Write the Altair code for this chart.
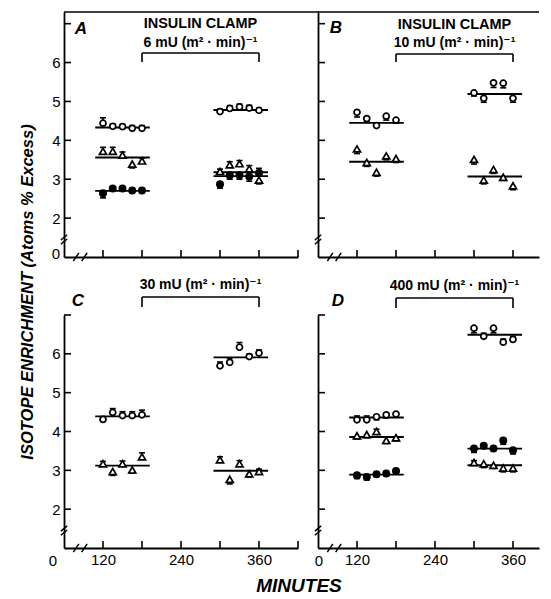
import altair as alt
import pandas as pd

FONT = "Liberation Sans, DejaVu Sans, sans-serif"

# ---------------- data ----------------
pre_minutes = [120, 135, 150, 165, 180]
post_minutes = [300, 315, 330, 345, 360]
pre_line_span = [108, 192]
post_line_span = [290, 374]
clamp_span = [180, 360]
x_tick_values = [120, 180, 240, 300, 360, 420]
x_label_values = [120, 240, 360]
y_label_values = [2, 3, 4, 5, 6]
y_break = [60, 1.45]
x_break = [85, 1.0]

# Panel A : 6 mU
a_open_circle = [4.44, 4.36, 4.35, 4.31, 4.31, 4.74, 4.82, 4.86, 4.83, 4.77]
a_open_circle_err = [0.14, 0.06, 0.06, 0.07, 0.07, 0.06, 0.07, 0.07, 0.07, 0.06]
a_open_circle_mean = [4.33, 4.78]
a_triangle = [3.72, 3.72, 3.62, 3.39, 3.47, 3.20, 3.37, 3.40, 3.27, 2.98]
a_triangle_err = [0.10, 0.10, 0.08, -0.10, 0.07, 0.06, 0.08, 0.08, 0.08, -0.10]
a_triangle_mean = [3.56, 3.18]
a_filled_circle = [2.64, 2.76, 2.76, 2.71, 2.71, 2.87, 3.10, 3.10, 3.07, 3.16]
a_filled_circle_err = [-0.12, -0.05, -0.06, -0.05, -0.05, -0.10, -0.10, -0.10, -0.12, 0.12]
a_filled_circle_mean = [2.70, 3.08]

# Panel B : 10 mU
b_open_circle = [4.72, 4.56, 4.38, 4.62, 4.52, 5.22, 5.08, 5.48, 5.47, 5.08]
b_open_circle_err = [-0.12, -0.08, 0.06, -0.10, -0.08, -0.08, -0.10, -0.12, -0.12, -0.10]
b_open_circle_mean = [4.45, 5.19]
b_triangle = [3.78, 3.43, 3.18, 3.60, 3.53, 3.51, 2.98, 3.25, 3.05, 2.83]
b_triangle_err = [-0.12, -0.10, -0.10, -0.10, -0.10, -0.12, -0.10, -0.10, -0.08, -0.10]
b_triangle_mean = [3.45, 3.07]

# Panel C : 30 mU
c_open_circle = [4.31, 4.49, 4.41, 4.41, 4.43, 5.69, 5.78, 6.17, 5.93, 6.02]
c_open_circle_err = [0.05, 0.10, 0.10, 0.10, 0.12, 0.10, 0.10, 0.12, 0.06, 0.08]
c_open_circle_mean = [4.39, 5.91]
c_triangle = [3.17, 2.97, 3.17, 3.01, 3.35, 3.27, 2.77, 3.17, 2.91, 2.97]
c_triangle_err = [0.06, -0.10, 0.07, -0.08, 0.10, 0.08, -0.12, 0.08, -0.08, 0.06]
c_triangle_mean = [3.12, 2.99]

# Panel D : 400 mU
d_open_circle = [4.30, 4.30, 4.38, 4.43, 4.45, 6.66, 6.45, 6.66, 6.30, 6.37]
d_open_circle_err = [0.10, 0.10, -0.08, -0.08, -0.08, -0.12, 0.08, -0.12, 0.08, 0.08]
d_open_circle_mean = [4.36, 6.49]
d_triangle = [3.89, 3.92, 4.00, 3.77, 3.84, 3.20, 3.17, 3.13, 3.06, 3.06]
d_triangle_err = [-0.08, -0.08, 0.06, -0.08, -0.08, 0.05, -0.10, -0.08, -0.10, -0.10]
d_triangle_mean = [3.86, 3.13]
d_filled_circle = [2.87, 2.83, 2.90, 2.92, 2.98, 3.56, 3.63, 3.56, 3.77, 3.52]
d_filled_circle_err = [-0.08, -0.08, -0.06, -0.06, 0.06, -0.10, 0.05, -0.05, -0.10, -0.10]
d_filled_circle_mean = [2.89, 3.56]

y_title = "ISOTOPE ENRICHMENT  (Atoms % Excess)"
x_title = "MINUTES"
clamp_label = "INSULIN CLAMP"
dose_labels = {"A": "6 mU  (m\u00b2 \u00b7 min)\u207b\u00b9",
               "B": "10 mU  (m\u00b2 \u00b7 min)\u207b\u00b9",
               "C": "30 mU  (m\u00b2 \u00b7 min)\u207b\u00b9",
               "D": "400 mU  (m\u00b2 \u00b7 min)\u207b\u00b9"}

SYMBOLS = {
    "open_circle": dict(shape="circle", fill="white", size=36),
    "triangle": dict(shape="triangle-up", fill="white", size=50),
    "filled_circle": dict(shape="circle", fill="black", size=40),
}
ONE = pd.DataFrame({"t": [0]})


def build_panel(letter, series, width, height, xmax, ymax, lay):
    xscale = alt.Scale(domain=[60, xmax], nice=False, zero=False)
    yscale = alt.Scale(domain=[1, ymax], nice=False, zero=False)
    xaxis = alt.Axis(values=x_label_values, labels=lay["xlabels"], ticks=False,
                     grid=False, title=None, labelPadding=4)
    yaxis = alt.Axis(values=y_label_values, labels=lay["ylabels"], ticks=False,
                     grid=False, title=None, labelPadding=4)

    def X(f):
        return alt.X(f, type="quantitative", scale=xscale, axis=xaxis)

    def Y(f):
        return alt.Y(f, type="quantitative", scale=yscale, axis=yaxis)

    times = pre_minutes + post_minutes
    layers = []
    for sym, vals, errs, means in series:
        pts = pd.DataFrame({"t": times, "v": vals, "e": errs})
        pts["end"] = pts["v"] + pts["e"]
        ml = pd.DataFrame({"t0": [pre_line_span[0], post_line_span[0]],
                           "t1": [pre_line_span[1], post_line_span[1]],
                           "m": means})
        layers.append(alt.Chart(ml).mark_rule(color="black", strokeWidth=1.9).encode(
            x=X("t0"), x2=alt.X2("t1"), y=Y("m")))
        layers.append(alt.Chart(pts).mark_rule(color="black", strokeWidth=1.5).encode(
            x=X("t"), y=Y("v"), y2=alt.Y2("end")))
        layers.append(alt.Chart(pts).mark_point(shape="M-1,0L1,0", size=36, filled=False,
                                                color="black", strokeWidth=1.6, opacity=1).encode(
            x=X("t"), y=Y("end")))
        s = SYMBOLS[sym]
        layers.append(alt.Chart(pts).mark_point(shape=s["shape"], size=s["size"], filled=True,
                                                fill=s["fill"], stroke="black", strokeWidth=1.7,
                                                opacity=1).encode(x=X("t"), y=Y("v")))

    # inward ticks
    yt = pd.DataFrame({"v": [v for v in y_label_values + [7] if v <= ymax]})
    layers.append(alt.Chart(yt).mark_rule(color="black", strokeWidth=1.6).encode(
        y=Y("v"), x=alt.value(0), x2=alt.value(7)))
    xt = pd.DataFrame({"t": [t for t in x_tick_values if t <= xmax]})
    layers.append(alt.Chart(xt).mark_rule(color="black", strokeWidth=1.6).encode(
        x=X("t"), y=alt.value(height), y2=alt.value(height - 7)))

    # axis breaks
    layers.append(alt.Chart(pd.DataFrame({"t": [y_break[0]], "v": [y_break[1]]})).mark_point(
        shape="M-0.6,0.1L0.6,-0.9M-0.6,0.9L0.6,-0.1", size=110, filled=False,
        color="black", strokeWidth=1.5, opacity=1).encode(x=X("t"), y=Y("v")))
    layers.append(alt.Chart(pd.DataFrame({"t": [x_break[0]], "v": [x_break[1]]})).mark_point(
        shape="M-1,0.6L-0.2,-0.6M0.2,0.6L1,-0.6", size=190, filled=False,
        color="black", strokeWidth=1.5, opacity=1).encode(x=X("t"), y=Y("v")))

    # top border
    if lay.get("border") is not None:
        layers.append(alt.Chart(ONE).mark_rule(color="black", strokeWidth=1.7).encode(
            x=alt.value(0), x2=alt.value(lay["border"]), y=alt.value(0)))

    # clamp bracket and labels
    br = pd.DataFrame({"t0": [clamp_span[0]], "t1": [clamp_span[1]]})
    layers.append(alt.Chart(br).mark_rule(color="black", strokeWidth=1.6).encode(
        x=X("t0"), x2=alt.X2("t1"), y=alt.value(lay["bracket"][0])))
    legs = pd.DataFrame({"t": clamp_span})
    layers.append(alt.Chart(legs).mark_rule(color="black", strokeWidth=1.6).encode(
        x=X("t"), y=alt.value(lay["bracket"][0]), y2=alt.value(lay["bracket"][1])))
    mid = pd.DataFrame({"t": [sum(clamp_span) / 2]})
    if lay.get("clamp_y") is not None:
        layers.append(alt.Chart(mid).mark_text(font=FONT, fontSize=14.5, fontWeight=600,
                                               color="black", align="center",
                                               baseline="middle").encode(
            x=X("t"), y=alt.value(lay["clamp_y"]), text=alt.value(clamp_label)))
    layers.append(alt.Chart(mid).mark_text(font=FONT, fontSize=14, fontWeight=600, color="black",
                                           align="center", baseline="middle").encode(
        x=X("t"), y=alt.value(lay["dose_y"]), text=alt.value(dose_labels[letter])))

    # panel letter
    layers.append(alt.Chart(ONE).mark_text(font=FONT, fontSize=17, fontStyle="italic",
                                           fontWeight="bold", color="black",
                                           align="center", baseline="middle").encode(
        x=alt.value(lay["letter"][0]), y=alt.value(lay["letter"][1]), text=alt.value(letter)))

    # corner zero
    if lay.get("zero") is not None:
        layers.append(alt.Chart(pd.DataFrame({"t": [60], "v": [1]})).mark_text(
            font=FONT, fontSize=15, color="black", align="center", baseline="middle",
            dx=lay["zero"][0], dy=lay["zero"][1]).encode(x=X("t"), y=Y("v"), text=alt.value("0")))

    for extra in lay.get("extras", []):
        layers.append(extra)

    return alt.layer(*layers).properties(width=width, height=height)


y_title_layer = alt.Chart(ONE).mark_text(font=FONT, fontSize=16.5, fontStyle="italic",
                                         fontWeight="bold", color="black", angle=270,
                                         align="center", baseline="middle").encode(
    x=alt.value(-36), y=alt.value(280), text=alt.value(y_title))
x_title_layer = alt.Chart(ONE).mark_text(font=FONT, fontSize=19, fontStyle="italic",
                                         fontWeight="bold", color="black",
                                         align="center", baseline="middle").encode(
    x=alt.value(235), y=alt.value(271), text=alt.value(x_title))

W_L, W_R, H_T, H_B = 234, 221, 245, 233

panel_a = build_panel("A", [("open_circle", a_open_circle, a_open_circle_err, a_open_circle_mean),
                            ("triangle", a_triangle, a_triangle_err, a_triangle_mean),
                            ("filled_circle", a_filled_circle, a_filled_circle_err, a_filled_circle_mean)],
                      W_L, H_T, 420, 7.3,
                      dict(xlabels=False, ylabels=True, border=W_L + 21, bracket=(41, 50),
                           clamp_y=12, dose_y=31, letter=(17, 17), zero=(-8, -3),
                           extras=[y_title_layer]))
panel_b = build_panel("B", [("open_circle", b_open_circle, b_open_circle_err, b_open_circle_mean),
                            ("triangle", b_triangle, b_triangle_err, b_triangle_mean)],
                      W_R, H_T, 400, 7.3,
                      dict(xlabels=False, ylabels=False, border=W_R, bracket=(42, 50),
                           clamp_y=13, dose_y=31, letter=(18, 16)))
panel_c = build_panel("C", [("open_circle", c_open_circle, c_open_circle_err, c_open_circle_mean),
                            ("triangle", c_triangle, c_triangle_err, c_triangle_mean)],
                      W_L, H_B, 420, 7.0,
                      dict(xlabels=True, ylabels=True, bracket=(-18, -8),
                           dose_y=-30, letter=(14, -14), zero=(-11, 13),
                           extras=[x_title_layer]))
panel_d = build_panel("D", [("open_circle", d_open_circle, d_open_circle_err, d_open_circle_mean),
                            ("triangle", d_triangle, d_triangle_err, d_triangle_mean),
                            ("filled_circle", d_filled_circle, d_filled_circle_err, d_filled_circle_mean)],
                      W_R, H_B, 400, 7.0,
                      dict(xlabels=True, ylabels=False, bracket=(-17, -7),
                           dose_y=-29, letter=(20, -14), zero=(1, 13)))

chart = alt.concat(panel_a, panel_b, panel_c, panel_d, columns=2,
                   spacing={"row": 58, "column": 20}, bounds="flush").properties(
    padding={"left": 12, "top": 3, "right": 0, "bottom": 0}
).configure_view(stroke=None).configure_axis(
    domainColor="black", domainWidth=1.8, labelFont=FONT, labelFontSize=15,
    labelColor="black", grid=False, ticks=False
)

chart.save("out.html", embed_options={"renderer": "svg", "actions": False})
